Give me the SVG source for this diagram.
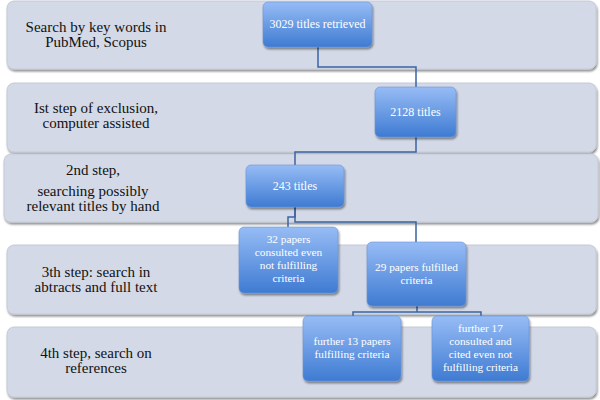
<svg xmlns="http://www.w3.org/2000/svg" width="600" height="400" viewBox="0 0 600 400">
<defs>
<linearGradient id="bg" x1="0" y1="0" x2="0" y2="1">
<stop offset="0" stop-color="#97bcf5"/>
<stop offset="0.45" stop-color="#6f9fe6"/>
<stop offset="1" stop-color="#3f7bd2"/>
</linearGradient>
<filter id="sh" x="-10%" y="-10%" width="125%" height="130%">
<feGaussianBlur in="SourceAlpha" stdDeviation="1.2"/>
<feOffset dx="1" dy="2" result="b"/>
<feComponentTransfer><feFuncA type="linear" slope="0.45"/></feComponentTransfer>
<feMerge><feMergeNode/><feMergeNode in="SourceGraphic"/></feMerge>
</filter>
</defs>
<style>
.panel{fill:#d3d9e7;stroke:#c4cad6;stroke-width:1;filter:url(#sh)}
.box{fill:url(#bg);stroke:#6a96d8;stroke-width:0.6;filter:url(#sh)}
.pt{font-family:"Liberation Serif",serif;font-size:15px;fill:#111;text-anchor:middle}
.bt{font-family:"Liberation Serif",serif;font-size:11.3px;fill:#fff;text-anchor:middle}
.b1{font-size:12px}
.c{fill:none;stroke:#3b64a3;stroke-width:1.5}
</style>
<rect width="600" height="400" fill="#fff"/>
<g id="panel1"><rect class="panel" x="7" y="1" width="589" height="68" rx="7"/>
<text class="pt" x="96" y="32">Search by key words in</text><text class="pt" x="96" y="47">PubMed, Scopus</text></g>
<g id="panel2"><rect class="panel" x="7" y="83" width="589" height="69" rx="7"/>
<text class="pt" x="96" y="113">Ist step of exclusion,</text><text class="pt" x="96" y="128">computer assisted</text></g>
<g id="panel3"><rect class="panel" x="4" y="154" width="594" height="68" rx="7"/>
<text class="pt" x="93" y="175">2nd step,</text><text class="pt" x="93" y="196">searching possibly</text><text class="pt" x="93" y="211">relevant  titles by hand</text></g>
<g id="panel4"><rect class="panel" x="7" y="245" width="589" height="69" rx="7"/>
<text class="pt" x="96" y="277">3th step: search in</text><text class="pt" x="96" y="292">abtracts and full text</text></g>
<g id="panel5"><rect class="panel" x="7" y="327" width="589" height="70" rx="7"/>
<text class="pt" x="96" y="358">4th  step, search on</text><text class="pt" x="96" y="373">references</text></g>
<g id="connectors">
<path class="c" d="M318 47V67H416V87"/>
<path class="c" d="M416 137V152H295V165"/>
<path class="c" d="M295 207V217H288V227"/>
<path class="c" d="M295 207V222H416V242"/>
<path class="c" d="M417 306V312M353 316V312H481V316"/>
</g>
<g id="n3029"><rect class="box" x="263" y="2" width="109" height="45" rx="5"/><text class="bt b1" x="317.5" y="28">3029 titles retrieved</text></g>
<g id="n2128"><rect class="box" x="375" y="87" width="81" height="50" rx="5"/><text class="bt b1" x="415.5" y="116">2128 titles</text></g>
<g id="n243"><rect class="box" x="246" y="165" width="98" height="42" rx="5"/><text class="bt b1" x="295" y="190">243 titles</text></g>
<g id="n32"><rect class="box" x="239" y="227" width="99" height="66" rx="5"/><text class="bt" x="288.5" y="243">32 papers</text><text class="bt" x="288.5" y="256">consulted even</text><text class="bt" x="288.5" y="269">not fulfilling</text><text class="bt" x="288.5" y="282">criteria</text></g>
<g id="n29"><rect class="box" x="367" y="242" width="99" height="64" rx="5"/><text class="bt" x="416.5" y="270.5">29 papers fulfilled</text><text class="bt" x="416.5" y="283.5">criteria</text></g>
<g id="n13"><rect class="box" x="303" y="316" width="98" height="65" rx="5"/><text class="bt" x="352" y="344.5">further 13 papers</text><text class="bt" x="352" y="357.5">fulfilling criteria</text></g>
<g id="n17"><rect class="box" x="432" y="316" width="97" height="65" rx="5"/><text class="bt" x="480.5" y="332">further 17</text><text class="bt" x="480.5" y="345">consulted and</text><text class="bt" x="480.5" y="358">cited even not</text><text class="bt" x="480.5" y="371">fulfilling criteria</text></g>
</svg>
